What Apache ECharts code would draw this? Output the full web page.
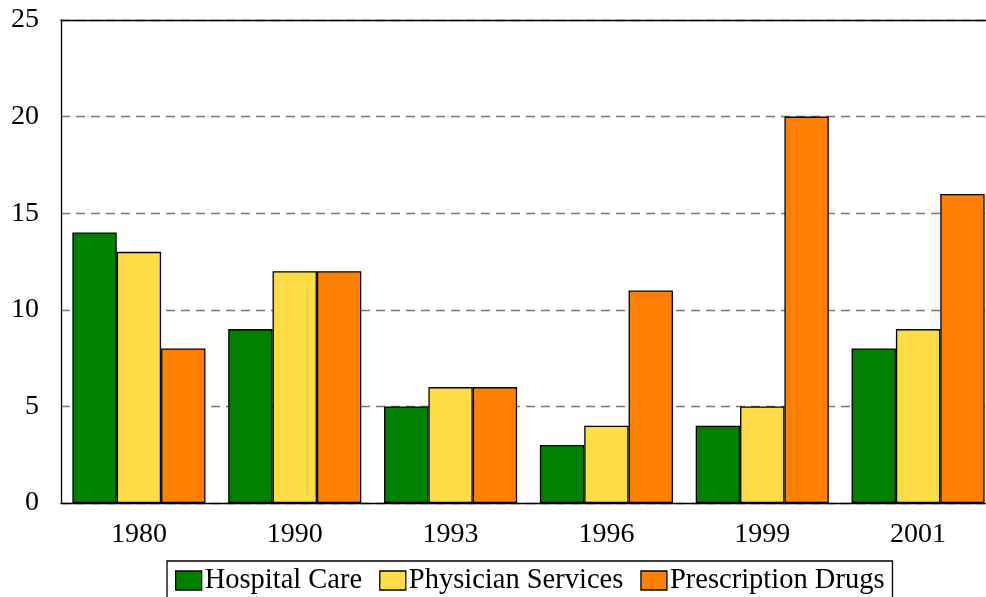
<!DOCTYPE html>
<html><head><meta charset="utf-8">
<script src="https://cdn.jsdelivr.net/npm/echarts@6/dist/echarts.min.js"></script>
<style>html,body{margin:0;padding:0;background:#fff}#c{width:986px;height:597px}</style>
</head><body><div id="c"></div>
<script>
const categories = ['1980','1990','1993','1996','1999','2001'];
const hospitalCare = [14,9,5,3,4,8];
const physicianServices = [13,12,6,4,5,9];
const prescriptionDrugs = [8,12,6,11,20,16];
const seriesNames = ['Hospital Care','Physician Services','Prescription Drugs'];
const colors = ['#008000','#FDDC45','#FF8000'];
const font = 'Liberation Serif, Times New Roman, serif';
const chart = echarts.init(document.getElementById('c'));
const mk = (name, data, color) => ({
  name, type:'bar', data, barGap:'0%', barCategoryGap:'14.6%',
  itemStyle:{color, borderColor:'#000', borderWidth:1.3}
});
chart.setOption({
  animation:false,
  textStyle:{fontFamily:font},
  grid:{left:61,width:935,top:20,bottom:94,outerBoundsMode:'none',containLabel:false},
  legend:{
    left:167, top:561, icon:'rect', itemWidth:26, itemHeight:19, itemGap:17,
    borderColor:'#000', borderWidth:1.3, padding:[5,8,8,8],
    textStyle:{fontFamily:font,fontSize:28.5,color:'#000',padding:[0,0,0,-2]},
    itemStyle:{borderColor:'#000',borderWidth:1.3},
    data:seriesNames
  },
  xAxis:[{
    type:'category', data:categories,
    axisLine:{lineStyle:{color:'#000',width:1.3}}, axisTick:{show:false},
    axisLabel:{fontFamily:font,fontSize:28,color:'#000',margin:18}
  },{
    type:'category', position:'top', data:categories,
    axisLine:{lineStyle:{color:'#000',width:1.3}}, axisTick:{show:false}, axisLabel:{show:false}
  }],
  yAxis:{
    type:'value', min:0, max:25, interval:5,
    axisLine:{show:true,lineStyle:{color:'#000',width:1.3}}, axisTick:{show:false},
    axisLabel:{fontFamily:font,fontSize:28,color:'#000',margin:22},
    splitLine:{lineStyle:{color:'#777',type:[9,6],width:1.3}}
  },
  series:[
    mk(seriesNames[0], hospitalCare, colors[0]),
    mk(seriesNames[1], physicianServices, colors[1]),
    mk(seriesNames[2], prescriptionDrugs, colors[2])
  ]
});
</script></body></html>
